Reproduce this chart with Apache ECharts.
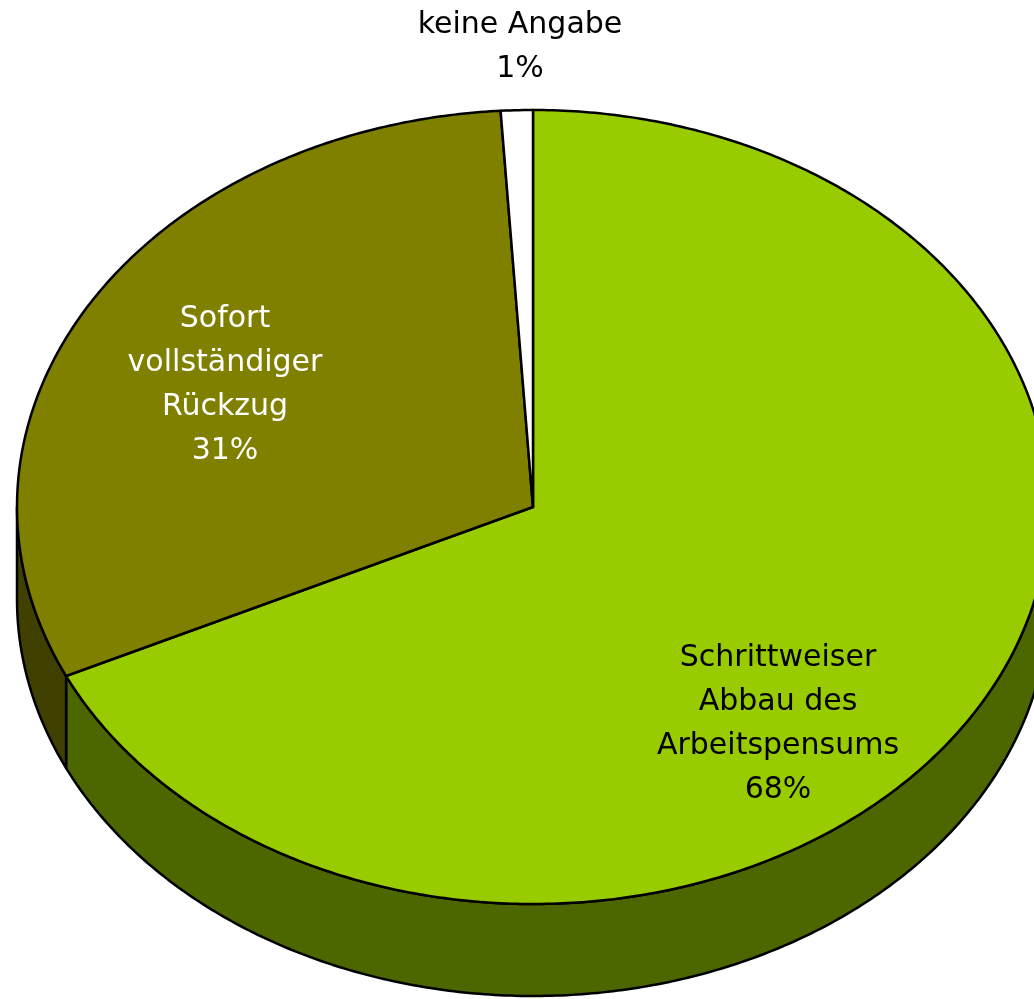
<!DOCTYPE html>
<html>
<head>
<meta charset="utf-8">
<script src="https://cdn.jsdelivr.net/npm/echarts@6/dist/echarts.min.js"></script>
<style>
    html, body { margin: 0; padding: 0; background: #fff; }
    #myChart { width: 1034px; height: 999px; }
</style>
</head>
<body>
<div id="myChart"></div>
<script>
    // data, clockwise from 12 o'clock
    var categories = ['Schrittweiser\nAbbau des\nArbeitspensums', 'Sofort\nvollständiger\nRückzug', 'keine Angabe'];
    var values = [68, 31, 1];

    // looks
    var topColors = ['#99cc00', '#808000', '#ffffff'];
    var sideColors = ['#4c6600', '#404000', '#808080'];
    var textColors = ['#000000', '#ffffff', '#000000'];
    // label centres (layout only)
    var labelAnchor = [[778, 724], [225, 385], [520, 47]];

    // pie geometry
    var cx = 533, cy = 507, rx = 516, ry = 397, depth = 92;

    var total = values.reduce(function (s, v) { return s + v; }, 0);
    var starts = [];
    var acc = 0;
    for (var i = 0; i < values.length; i++) {
        starts.push(acc / total * Math.PI * 2);
        acc += values[i];
    }

    function pt(t, dy) {
        return [cx + rx * Math.sin(t), cy - ry * Math.cos(t) + (dy || 0)];
    }
    function arc(t1, t2, dy) {
        var pts = [];
        var n = Math.max(2, Math.ceil((t2 - t1) / 0.01));
        for (var k = 0; k <= n; k++) {
            pts.push(pt(t1 + (t2 - t1) * k / n, dy));
        }
        return pts;
    }

    var myChart = echarts.init(document.getElementById('myChart'));
    myChart.setOption({
        animation: false,
        series: [{
            type: 'custom',
            coordinateSystem: 'none',
            data: values.map(function (v, idx) { return [idx, v]; }),
            renderItem: function (params, api) {
                var idx = api.value(0);
                var t1 = starts[idx];
                var t2 = t1 + api.value(1) / total * Math.PI * 2;
                var children = [];

                // visible side wall (front half only)
                var s = Math.max(t1, Math.PI / 2);
                var e = Math.min(t2, Math.PI * 1.5);
                if (e > s) {
                    var side = arc(s, e, 0).concat(arc(s, e, depth).reverse());
                    children.push({
                        type: 'polygon',
                        z2: 1,
                        shape: { points: side },
                        style: { fill: sideColors[idx], stroke: '#000', lineWidth: 2.5, lineJoin: 'round' }
                    });
                }

                // top face
                var face = [[cx, cy]].concat(arc(t1, t2, 0));
                children.push({
                    type: 'polygon',
                    z2: 2,
                    shape: { points: face },
                    style: { fill: topColors[idx], stroke: '#000', lineWidth: 2.5, lineJoin: 'round' }
                });

                // label
                children.push({
                    type: 'text',
                    z2: 3,
                    x: labelAnchor[idx][0],
                    y: labelAnchor[idx][1],
                    style: {
                        text: categories[idx] + '\n' + Math.round(api.value(1) / total * 100) + '%',
                        fill: textColors[idx],
                        fontSize: 30,
                        fontFamily: 'DejaVu Sans',
                        lineHeight: 44,
                        align: 'center',
                        verticalAlign: 'middle'
                    }
                });

                return { type: 'group', children: children };
            }
        }]
    });
</script>
</body>
</html>
